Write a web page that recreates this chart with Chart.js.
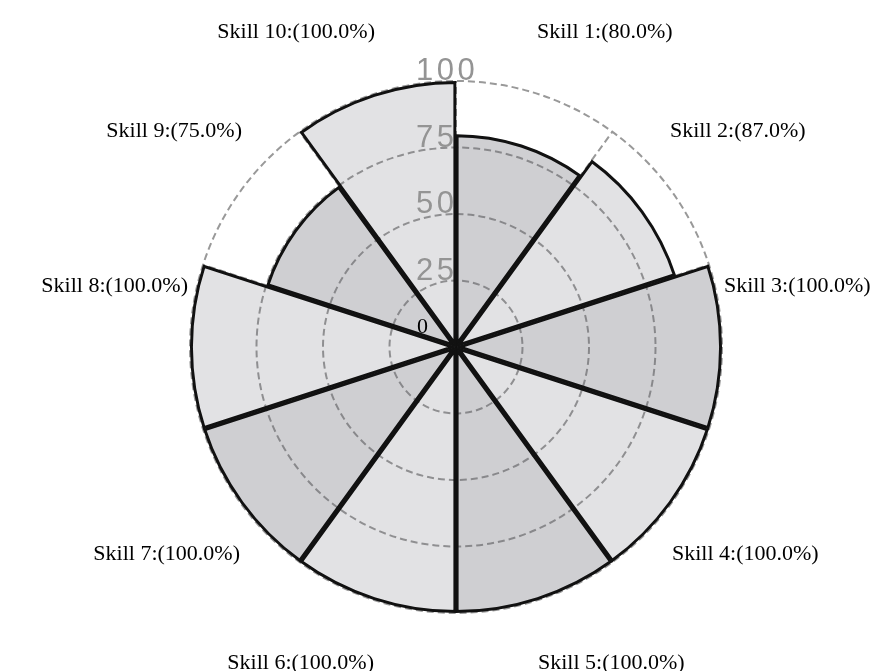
<!DOCTYPE html>
<html>
<head>
<meta charset="utf-8">
<script src="https://cdn.jsdelivr.net/npm/chart.js@4"></script>
<style>
  body { margin: 0; background: #fff; }
  canvas { display: block; }
</style>
</head>
<body>
<canvas id="skillChart" width="884" height="671"></canvas>
<script>
const skillNames = ['Skill 1', 'Skill 2', 'Skill 3', 'Skill 4', 'Skill 5',
                    'Skill 6', 'Skill 7', 'Skill 8', 'Skill 9', 'Skill 10'];
const skillValues = [80, 87, 100, 100, 100, 100, 100, 100, 75, 100];
const tickValues = [0, 25, 50, 75, 100];

// alternating segment shades, a bit see-through so the dashed rings show
const darkFill = 'rgba(100,100,110,0.31)';
const lightFill = 'rgba(100,100,110,0.187)';

// where the outer labels sit, relative to the centre (right half, mirrored for left)
const labelSpots = [[81, -309], [214, -210], [268, -55], [216, 213], [82, 322]];

const labelPlugin = {
    id: 'skillLabels',
    afterDraw(chart) {
        const ctx = chart.ctx;
        const r = chart.scales.r;
        ctx.save();

        // tick labels, left aligned just off the centre line
        ctx.fillStyle = '#949494';
        ctx.font = '31px "Liberation Sans", Arial, sans-serif';
        ctx.letterSpacing = '3.5px';
        ctx.textAlign = 'left';
        ctx.textBaseline = 'alphabetic';
        tickValues.forEach(v => {
            if (v === 0) return;
            const y = r.yCenter - r.getDistanceFromCenterForValue(v) - 1;
            ctx.fillText(String(v), r.xCenter - 40, y);
        });
        ctx.letterSpacing = '0px';
        ctx.fillStyle = '#000';
        ctx.font = '22px "Liberation Serif", "Times New Roman", serif';
        ctx.fillText(String(tickValues[0]), r.xCenter - 39, r.yCenter - 14);

        // skill labels around the chart
        skillValues.forEach((v, i) => {
            const right = i < 5;
            const spot = right ? labelSpots[i] : labelSpots[9 - i];
            const x = right ? r.xCenter + spot[0] : r.xCenter - spot[0];
            ctx.textAlign = right ? 'left' : 'right';
            ctx.fillText(`${skillNames[i]}:(${v.toFixed(1)}%)`, x, r.yCenter + spot[1]);
        });
        ctx.restore();
    }
};

const ctx = document.getElementById('skillChart').getContext('2d');
new Chart(ctx, {
    type: 'polarArea',
    data: {
        labels: skillNames,
        datasets: [{
            data: skillValues,
            backgroundColor: skillValues.map((v, i) => i % 2 === 0 ? darkFill : lightFill),
            borderColor: '#111',
            borderWidth: 2.6,
            borderAlign: 'inner',
        }],
    },
    options: {
        responsive: false,
        animation: false,
        layout: {
            padding: { left: 190, right: 162, top: 81, bottom: 58 }
        },
        plugins: {
            legend: { display: false },
            tooltip: { enabled: false }
        },
        scales: {
            r: {
                min: 0,
                max: 100,
                ticks: { stepSize: 25, display: false },
                grid: { circular: true, color: '#999', lineWidth: 2 },
                border: { dash: [7, 4] },
                angleLines: { display: true, color: '#999', lineWidth: 2, borderDash: [7, 4] },
                pointLabels: { display: false }
            }
        }
    },
    plugins: [labelPlugin]
});
</script>
</body>
</html>
